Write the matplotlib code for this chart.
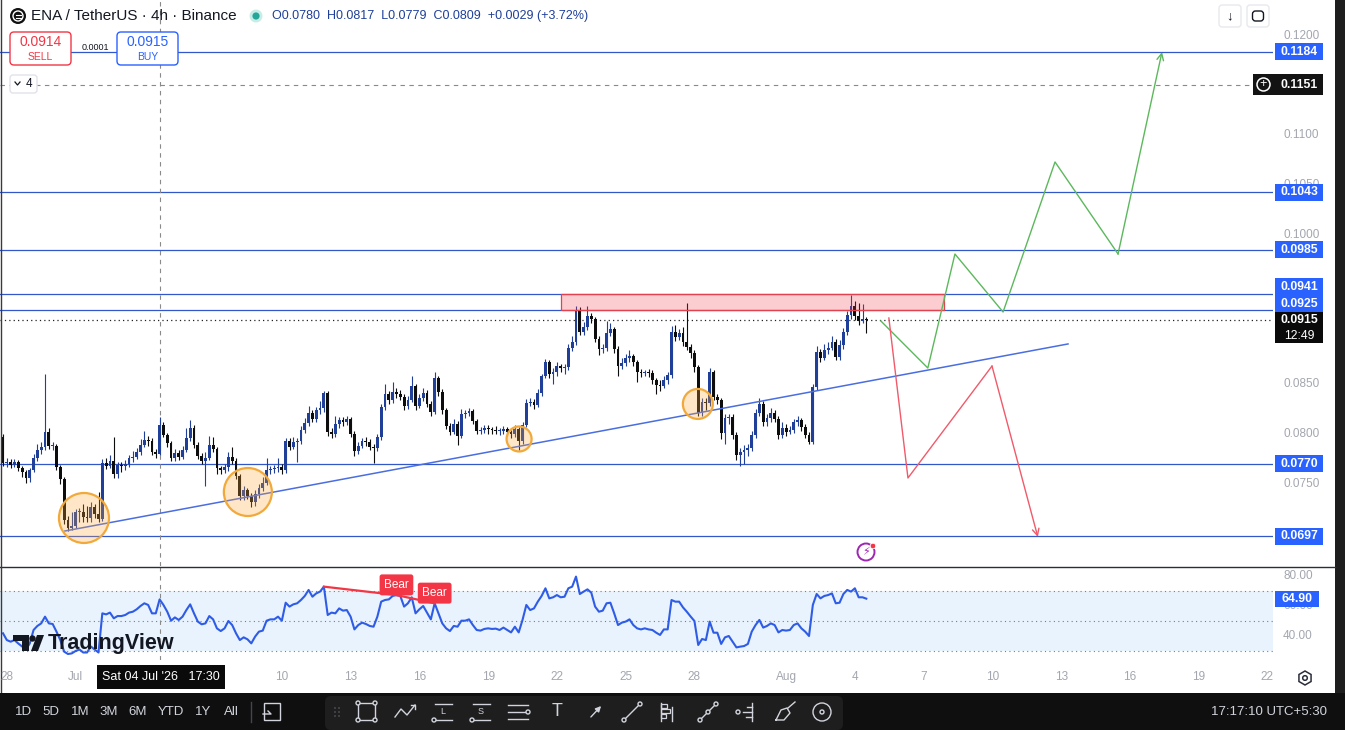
import matplotlib.pyplot as plt
import matplotlib.transforms as mtransforms
from matplotlib.patches import Rectangle, Ellipse, FancyBboxPatch, Circle, Polygon, RegularPolygon
import numpy as np

plt.rcParams['font.family'] = ['Liberation Sans', 'DejaVu Sans']

W, H = 1345, 730
PIP = 1e-4

# ---- ENA/USDT 4h candles, in pips (0.0001), first bar = 27 Jun 21:30
first_open = 797
closes = [771, 772, 769, 772, 766, 762, 756, 764, 776, 784,
          787, 802, 788, 788, 767, 755, 714, 706, 708, 722,
          722, 717, 716, 727, 720, 715, 771, 768, 773, 760,
          769, 768, 770, 776, 777, 782, 789, 794, 793, 782,
          780, 809, 799, 791, 776, 781, 777, 784, 796, 806,
          789, 778, 773, 776, 789, 785, 766, 764, 767, 777,
          773, 758, 738, 744, 738, 732, 740, 746, 751, 764,
          765, 766, 767, 764, 793, 787, 792, 793, 804, 811,
          821, 815, 824, 826, 841, 802, 800, 810, 814, 812,
          815, 800, 783, 788, 793, 792, 787, 786, 797, 827,
          840, 834, 842, 840, 837, 828, 834, 848, 828, 836,
          841, 830, 822, 856, 842, 824, 808, 802, 810, 798,
          820, 821, 823, 813, 803, 804, 806, 805, 804, 803,
          803, 805, 802, 800, 805, 793, 809, 831, 832, 829,
          841, 858, 872, 860, 862, 868, 866, 867, 886, 892,
          924, 903, 908, 919, 916, 895, 885, 886, 902, 906,
          885, 868, 871, 876, 878, 872, 862, 861, 862, 861,
          854, 849, 848, 854, 859, 903, 897, 902, 892, 887,
          881, 867, 821, 832, 831, 862, 837, 834, 801, 816,
          817, 799, 779, 782, 784, 786, 799, 821, 830, 812,
          816, 821, 815, 799, 806, 802, 804, 812, 814, 807,
          799, 792, 847, 882, 876, 884, 886, 892, 877, 889,
          903, 920, 929, 919, 914, 916, 915]
highs = [800, 776, 775, 775, 774, 768, 764, 766, 780, 790,
         792, 860, 806, 792, 790, 769, 757, 718, 722, 725,
         726, 730, 728, 732, 730, 742, 775, 776, 779, 797,
         772, 772, 774, 779, 783, 786, 795, 803, 798, 796,
         785, 817, 812, 801, 793, 785, 784, 788, 806, 814,
         809, 792, 781, 782, 798, 797, 787, 768, 770, 782,
         787, 776, 760, 748, 746, 741, 744, 750, 757, 776,
         768, 769, 776, 770, 796, 796, 797, 796, 808, 816,
         828, 824, 827, 833, 843, 843, 806, 818, 817, 817,
         818, 817, 803, 792, 796, 797, 795, 790, 800, 830,
         850, 843, 852, 846, 844, 840, 838, 858, 850, 840,
         846, 844, 833, 862, 858, 845, 826, 811, 815, 813,
         825, 824, 826, 825, 815, 807, 809, 809, 807, 808,
         806, 808, 807, 804, 809, 807, 812, 835, 836, 835,
         845, 860, 875, 874, 866, 872, 870, 870, 890, 898,
         929, 928, 913, 929, 922, 918, 898, 890, 914, 912,
         908, 888, 876, 880, 884, 880, 874, 865, 864, 865,
         864, 856, 854, 858, 862, 909, 910, 906, 908, 932,
         890, 884, 869, 836, 836, 866, 864, 840, 836, 820,
         820, 820, 802, 786, 789, 790, 803, 825, 836, 833,
         820, 826, 824, 818, 812, 810, 808, 815, 818, 816,
         810, 802, 850, 888, 885, 890, 892, 898, 895, 894,
         907, 924, 940, 934, 932, 931, 918]
lows = [768, 767, 766, 767, 763, 757, 751, 752, 762, 773,
        780, 784, 785, 784, 764, 750, 710, 703, 704, 706,
        712, 712, 712, 712, 716, 712, 713, 765, 766, 756,
        756, 762, 764, 767, 772, 775, 779, 787, 788, 779,
        776, 779, 797, 787, 773, 773, 774, 775, 782, 793,
        786, 775, 770, 748, 774, 782, 760, 760, 761, 763,
        770, 755, 734, 734, 735, 727, 728, 736, 743, 749,
        760, 761, 762, 760, 761, 784, 785, 772, 790, 801,
        808, 812, 812, 820, 822, 798, 796, 797, 806, 808,
        809, 797, 778, 780, 786, 788, 784, 771, 783, 794,
        824, 830, 831, 836, 834, 824, 825, 832, 824, 826,
        833, 827, 818, 820, 838, 820, 805, 799, 800, 789,
        796, 816, 818, 810, 800, 800, 801, 800, 800, 800,
        799, 800, 798, 796, 797, 784, 790, 807, 828, 825,
        827, 838, 856, 856, 850, 858, 862, 860, 864, 883,
        889, 899, 899, 905, 912, 892, 879, 881, 883, 898,
        881, 858, 865, 868, 872, 868, 852, 857, 858, 857,
        850, 840, 843, 846, 850, 856, 893, 894, 888, 884,
        876, 862, 818, 818, 824, 828, 834, 830, 795, 790,
        810, 795, 774, 768, 770, 778, 783, 796, 818, 808,
        808, 812, 812, 795, 796, 798, 800, 801, 808, 803,
        796, 790, 790, 844, 872, 874, 880, 884, 874, 874,
        885, 900, 916, 915, 910, 912, 902]

# ---- RSI(14)
rsi = [41.8, 37.3, 36.2, 37.3, 35, 33, 31, 35, 44, 46.7,
       48.4, 52.9, 48.4, 48, 42.9, 37.3, 29.6, 28, 28.4, 30,
       31, 29, 29, 33, 31, 29, 55.1, 54.4, 55.6, 51.8,
       53.3, 53.3, 54, 55.6, 56.2, 57.8, 60, 61.8, 60.7, 55.1,
       55.1, 64.4, 60.7, 56.2, 50.2, 52.4, 50.7, 52.9, 57.3, 61.1,
       55.1, 49.6, 47.8, 48.4, 53.3, 51.1, 45.1, 43.3, 45.1, 50,
       47.3, 41.8, 37.3, 39.1, 37.8, 35.1, 39.6, 42.9, 43.6, 50.2,
       51.1, 51.1, 52.9, 50.2, 62.2, 59.6, 61.1, 61.8, 64, 66.7,
       70.7, 66.2, 68.4, 69.6, 72.9, 54, 55.6, 55.1, 58.4, 56.9,
       57.3, 52.9, 44.4, 47.3, 48.9, 48, 46.7, 46.2, 52.9, 62.9,
       64, 64.4, 66.7, 67.3, 66.7, 59.6, 61.8, 65.8, 55.1, 57.8,
       60, 55.6, 51.1, 61.8, 55.1, 48.4, 45.1, 43.3, 46.7, 46.2,
       50.2, 50.2, 51.1, 47.3, 44, 43.6, 44.7, 45.1, 44.7, 44.9,
       44, 45.6, 44, 42.4, 46.2, 42.4, 50.7, 60.7, 57.3, 58.4,
       62.9, 66.7, 71.8, 65.1, 65.8, 67.3, 65.8, 66.2, 71.8, 72.9,
       79.6, 68, 69.6, 71.1, 68.9, 59.6, 56.2, 56.9, 61.8, 62.2,
       55.1, 47.3, 48.9, 49.6, 51.1, 47.3, 45.1, 44.4, 45.1, 44.4,
       44, 42.2, 40.7, 44.4, 44.4, 64, 62.9, 62.9, 59.1, 56.2,
       53, 50, 34, 38, 37.3, 49.6, 42.2, 42.2, 34.7, 39.1,
       40, 36.2, 32.4, 32.9, 33.3, 34.7, 42.9, 47.3, 50.7, 45.6,
       46.7, 48.4, 47.3, 42.4, 44, 43.6, 44, 47.3, 48.4, 45.1,
       42.9, 40, 60.7, 68, 65.1, 66.7, 67.3, 68.4, 61.8, 62.2,
       68, 70.7, 69.6, 71.8, 65.8, 65.8, 64.9]
bear_pivots = [84, 103, 113]

# ---- horizontal levels and axis marks
levels = [0.1184, 0.1043, 0.0985, 0.0941, 0.0925, 0.0770, 0.0697]
level_shift = [0, 0, 0, 7, 6, 0, 0]          # label nudge, px up
price_ticks = [0.1200, 0.1100, 0.1050, 0.1000, 0.0850, 0.0800, 0.0750]
rsi_ticks = [80, 60, 40]
cross_price = 0.1151
cross_bar = 41
last_price = 0.0915
zone = (146.1, 246.3, 0.0925, 0.0941)
trend = ([16.2, 278.8], [0.07025, 0.08905])
green_path = ([229.8, 242.1, 249.2, 261.8, 275.4, 291.9, 303.4],
              [0.09136, 0.08663, 0.09809, 0.09226, 0.10734, 0.09809, 0.11839])
red_path = ([231.9, 236.9, 258.9, 270.9],
            [0.09166, 0.07558, 0.08683, 0.06965])
circles = [(21.2, 0.07156, 25), (64.1, 0.07417, 24), (135.1, 0.07950, 12.5), (181.9, 0.08302, 15)]

# day ticks: days from 1 Jul, first bar of 1 Jul is bar 19, 6 bars per day
tick_days = [-3, 0, 9, 12, 15, 18, 21, 24, 27, 31, 34, 37, 40, 43, 46, 49, 52]
tick_text = ['28', 'Jul', '10', '13', '16', '19', '22', '25', '28',
             'Aug', '4', '7', '10', '13', '16', '19', '22']

UP = '#1f3f98'
DN = '#0d0d0d'
LVL = '#3157c9'
GREY = '#a3a6af'
TVBLUE = '#2962ff'

fig = plt.figure(figsize=(W / 100, H / 100), dpi=100, facecolor='white')


def px_axes(x0, y0, x1, y1):
    return fig.add_axes([x0 / W, 1 - y1 / H, (x1 - x0) / W, (y1 - y0) / H])


X0, DX = 3.0, 3.82                 # px of bar 0, px per bar
PXP = 9950.0                       # px per 1.0 of price
ax = px_axes(0, 0, 1273, 566)
rax = px_axes(0, 567, 1273, 660)
ui = fig.add_axes([0, 0, 1, 1], zorder=5)
ui.set_xlim(0, W)
ui.set_ylim(H, 0)
ui.axis('off')
ui.patch.set_alpha(0)

xlim = ((0 - X0) / DX, (1273 - X0) / DX)
for a in (ax, rax):
    a.set_xlim(*xlim)
    a.set_xticks([])
    a.set_yticks([])
    for s in a.spines.values():
        s.set_visible(False)
ax.set_ylim(0.12 - 530 / PXP, 0.12 + 36 / PXP)
rax.set_ylim(24, 86)

# ---- candles
c = np.array(closes) * PIP
o = np.array([first_open] + closes[:-1]) * PIP
h = np.array(highs) * PIP
l = np.array(lows) * PIP
idx = np.arange(len(c))
col = np.where(c >= o, UP, DN)
ax.vlines(idx, l, h, colors=col, lw=0.8, zorder=3)
ax.bar(idx, np.maximum(np.abs(c - o), 0.00006), bottom=np.minimum(o, c),
       width=0.74, color=col, linewidth=0, zorder=3)

# ---- levels
for p in levels:
    ax.axhline(p, color=LVL, lw=0.9, zorder=2)
ax.axhline(last_price, color='#222222', lw=0.9, ls=(0, (1, 2.5)), zorder=2)
ax.plot([xlim[0], (1253 - X0) / DX], [cross_price, cross_price], color='#8a8a8a',
        lw=0.8, ls=(0, (4, 4)), zorder=2)
ax.axvline(cross_bar, color='#8a8a8a', lw=0.8, ls=(0, (4, 4)), zorder=2)
rax.axvline(cross_bar, color='#8a8a8a', lw=0.8, ls=(0, (4, 4)), zorder=2)

# ---- drawings
ax.add_patch(Rectangle((zone[0], zone[2]), zone[1] - zone[0], zone[3] - zone[2],
                       fc=(0.95, 0.21, 0.27, 0.25), ec='#e0424f', lw=0.9, zorder=6))
ax.plot(*trend, color='#4a6ee0', lw=1.1, zorder=5)
for cx, cy, r in circles:
    ax.add_patch(Ellipse((cx, cy), 2 * r / DX, 2 * r / PXP, fc=(1.0, 0.65, 0.2, 0.28),
                         ec='#f2a93b', lw=1.6, zorder=6))
ax.plot(green_path[0][:-1], green_path[1][:-1], color='#5cb85c', lw=1.0, zorder=6)
ax.annotate('', xy=(green_path[0][-1], green_path[1][-1]),
            xytext=(green_path[0][-2], green_path[1][-2]),
            arrowprops=dict(arrowstyle='->', color='#5cb85c', lw=1.0, shrinkA=0, shrinkB=0,
                            mutation_scale=12), zorder=6)
ax.plot(red_path[0][:-1], red_path[1][:-1], color='#f05a6a', lw=1.0, zorder=6)
ax.annotate('', xy=(red_path[0][-1], red_path[1][-1]),
            xytext=(red_path[0][-2], red_path[1][-2]),
            arrowprops=dict(arrowstyle='->', color='#f05a6a', lw=1.0, shrinkA=0, shrinkB=0,
                            mutation_scale=12), zorder=6)

# ---- RSI pane
rax.axhspan(30, 70, color='#e8f3fd', zorder=0, lw=0)
for v in (70, 50, 30):
    rax.axhline(v, color='#7a7d85', lw=0.8, ls=(0, (1, 3)), zorder=1)
rax.plot(idx, rsi, color='#2f5ce6', lw=1.5, zorder=3)
for a_, b_ in zip(bear_pivots[:-1], bear_pivots[1:]):
    rax.plot([a_, b_], [rsi[a_], rsi[b_]], color='#f23645', lw=1.6, zorder=4)
for pv in bear_pivots[1:]:
    rax.annotate('Bear', xy=(pv, rsi[pv]), xytext=(0, 3), textcoords='offset points',
                 ha='center', va='bottom', color='white', fontsize=8.5, zorder=7,
                 bbox=dict(boxstyle='round,pad=0.38,rounding_size=0.2', fc='#f23645', ec='none'))

# ---- price axis
tr_p = mtransforms.blended_transform_factory(ui.transData, ax.transData)
tr_r = mtransforms.blended_transform_factory(ui.transData, rax.transData)
tr_t = mtransforms.blended_transform_factory(ax.transData, ui.transData)

for p in price_ticks:
    ax.text(1283, p, f'{p:.4f}', transform=tr_p, color=GREY, fontsize=8.5,
            va='center', ha='left', clip_on=False, zorder=10)


def axis_box(a, tr, y, text, fc, x0=1275, w=48, up=8.5, dn=8.5, **kw):
    a.add_patch(Rectangle((x0, y - dn / PXP), w, (up + dn) / PXP, transform=tr, fc=fc,
                          ec='none', clip_on=False, zorder=12))
    a.text(x0 + w / 2, y, text, transform=tr, color='white', fontsize=8.8,
           fontweight='bold', ha='center', va='center', clip_on=False, zorder=13, **kw)


for p, s in zip(levels, level_shift):
    axis_box(ax, tr_p, p + s / PXP, f'{p:.4f}', TVBLUE)
axis_box(ax, tr_p, cross_price, f'{cross_price:.4f}', '#131313', x0=1253, w=70, up=10.5, dn=10.5)
ax.texts[-1].set_position((1299, cross_price))
axis_box(ax, tr_p, last_price, f'{last_price:.4f}', '#0a0a0a', up=8, dn=23.5)
ax.text(1299, last_price - 16 / PXP, '12:49', transform=tr_p, color='white', fontsize=8.8,
        ha='center', va='center', clip_on=False, zorder=13)
ui.add_patch(Circle((1263.5, 84.5), 6.5, fc='none', ec='white', lw=1.1, zorder=14))
ui.text(1263.5, 84.5, '+', color='white', fontsize=9, ha='center', va='center', zorder=14)

for v in rsi_ticks:
    rax.text(1283, v, f'{v:.2f}', transform=tr_r, color=GREY, fontsize=8.5,
             va='center', ha='left', clip_on=False, zorder=10)
rax.add_patch(Rectangle((1275, rsi[-1] - 5.3), 44, 10.6, transform=tr_r, fc=TVBLUE,
                        ec='none', clip_on=False, zorder=12))
rax.text(1297, rsi[-1], f'{rsi[-1]:.2f}', transform=tr_r, color='white', fontsize=8.8,
         fontweight='bold', ha='center', va='center', clip_on=False, zorder=13)

# ---- time axis
for d, t in zip(tick_days, tick_text):
    ui.text(19 + 6 * d, 677, t, transform=tr_t, color=GREY, fontsize=8.5,
            ha='center', va='center')
ui.add_patch(Rectangle((97, 665), 128, 24, fc='#0a0a0a', ec='none', zorder=8))
ui.text(161, 677, "Sat 04 Jul '26   17:30", color='white', fontsize=9,
        ha='center', va='center', zorder=9)
ui.add_patch(RegularPolygon((1305, 678), 6, radius=7, fc='none', ec='#2a2e39', lw=1.1))
ui.add_patch(Circle((1305, 678), 2.3, fc='none', ec='#2a2e39', lw=1.1))

# ---- frame
ui.plot([0, 1335], [566.5, 566.5], color='#2a2e39', lw=1)
ui.plot([0.5, 0.5], [0, 693], color='#3a3a3a', lw=1)
ui.add_patch(Rectangle((1335, 0), 10, 693, fc='#1e1e1e', ec='none'))

# ---- header
ui.add_patch(Circle((18, 16), 8, fc='#111111', ec='none'))
ui.add_patch(Circle((18, 16), 5, fc='none', ec='white', lw=1))
ui.plot([15.5, 20.5], [14.5, 14.5], color='white', lw=0.8)
ui.plot([15.5, 20.5], [17.5, 17.5], color='white', lw=0.8)
ui.text(31, 16, 'ENA / TetherUS · 4h · Binance', color='#131722', fontsize=11,
        ha='left', va='center')
ui.add_patch(Circle((256, 16), 6.5, fc='#c8ece6', ec='none'))
ui.add_patch(Circle((256, 16), 3.6, fc='#26a69a', ec='none'))
k = cross_bar
oo, hh_, ll_, cc = o[k], h[k], l[k], c[k]
ohlc = (f'O{oo:.4f}  H{hh_:.4f}  L{ll_:.4f}  C{cc:.4f}  {cc - oo:+.4f} '
        f'({(cc - oo) / oo * 100:+.2f}%)')
ui.text(272, 16.5, ohlc, color='#1f3f98', fontsize=9, ha='left', va='center')

ui.add_patch(FancyBboxPatch((10, 32), 61, 33, boxstyle='round,pad=0,rounding_size=4',
                            fc='white', ec='#f23645', lw=1, zorder=6))
ui.text(40.5, 42, '0.0914', color='#f23645', fontsize=10, ha='center', va='center', zorder=7)
ui.text(40.5, 57, 'SELL', color='#f23645', fontsize=7.5, ha='center', va='center', zorder=7)
ui.add_patch(FancyBboxPatch((117, 32), 61, 33, boxstyle='round,pad=0,rounding_size=4',
                            fc='white', ec=TVBLUE, lw=1, zorder=6))
ui.text(147.5, 42, '0.0915', color=TVBLUE, fontsize=10, ha='center', va='center', zorder=7)
ui.text(147.5, 57, 'BUY', color=TVBLUE, fontsize=7.5, ha='center', va='center', zorder=7)
ui.text(95, 48, '0.0001', color='#131722', fontsize=6.5, ha='center', va='center', zorder=7)
ui.add_patch(FancyBboxPatch((10, 75), 27, 18, boxstyle='round,pad=0,rounding_size=3',
                            fc='white', ec='#e0e3eb', lw=1, zorder=6))
ui.plot([15, 17.5, 20], [82, 85, 82], color='#131722', lw=0.9, zorder=7)
ui.text(29, 84, '4', color='#131722', fontsize=8.5, ha='center', va='center', zorder=7)

for bx in (1219, 1247):
    ui.add_patch(FancyBboxPatch((bx, 5), 22, 22, boxstyle='round,pad=0,rounding_size=3',
                                fc='white', ec='#e8e9ee', lw=1, zorder=6))
ui.text(1230, 16, '↓', color='#131722', fontsize=9.5, ha='center', va='center', zorder=7)
ui.add_patch(FancyBboxPatch((1252.5, 11), 11, 10, boxstyle='round,pad=0,rounding_size=3',
                            fc='none', ec='#131722', lw=1, zorder=7))

# lightning (alerts) badge
ui.add_patch(Circle((866, 552), 8.5, fc='white', ec='#9c27b0', lw=1.4, zorder=7))
ui.text(866, 552.5, '⚡', color='#9c27b0', fontsize=8, ha='center', va='center', zorder=8)
ui.add_patch(Circle((873, 546), 2.8, fc='#f23645', ec='white', lw=0.6, zorder=9))

# watermark
ui.add_patch(Polygon([(13, 635), (29, 635), (29, 651), (22, 651), (22, 641), (13, 641)],
                     closed=True, fc='#131722', ec='none', zorder=7))
ui.add_patch(Circle((32.5, 638.5), 3.2, fc='#131722', ec='none', zorder=7))
ui.add_patch(Polygon([(31, 651), (37, 635), (44, 635), (38, 651)], closed=True,
                     fc='#131722', ec='none', zorder=7))
ui.text(48, 643, 'TradingView', color='#131722', fontsize=15.5, fontweight='bold',
        ha='left', va='center', zorder=7)

# ---- bottom toolbar
ui.add_patch(Rectangle((0, 693), W, 37, fc='#0f0f0f', ec='none', zorder=7))
ui.add_patch(FancyBboxPatch((325, 696), 518, 34, boxstyle='round,pad=0,rounding_size=6',
                            fc='#1e1e1e', ec='none', zorder=8))
for x, s in zip([24, 51, 80, 109, 138, 171, 203, 231],
                ['1D', '5D', '1M', '3M', '6M', 'YTD', '1Y', 'All']):
    ui.text(x, 712, s, color='#d1d4dc', fontsize=9.5, ha='center', va='center', zorder=9)
ui.plot([251, 251], [702, 722], color='#434651', lw=1, zorder=9)
ui.add_patch(Rectangle((264, 703), 16, 17, fc='none', ec='#d1d4dc', lw=1, zorder=9))
ui.plot([263, 271, 268], [714, 714, 711], color='#d1d4dc', lw=1, zorder=9)
ui.text(1327, 712, '17:17:10 UTC+5:30', color='#d1d4dc', fontsize=9.5, ha='right',
        va='center', zorder=9)
for dx_ in (0, 4):
    for dy_ in (-4, 0, 4):
        ui.add_patch(Circle((335 + dx_, 712 + dy_), 0.8, fc='#5d606b', ec='none', zorder=9))

ic = '#d1d4dc'
kw = dict(color=ic, lw=1, zorder=9)
# rectangle tool
ui.add_patch(Rectangle((358, 703), 17, 17, fc='none', ec=ic, lw=1, zorder=9))
for px_, py_ in [(358, 703), (375, 703), (358, 720), (375, 720)]:
    ui.add_patch(Circle((px_, py_), 2, fc='#1e1e1e', ec=ic, lw=1, zorder=10))
# path
ui.plot([395, 401, 407, 415], [717, 709, 715, 705], **kw)
ui.plot([411, 415, 415], [705, 705, 709], **kw)
# long/short positions
for cx_, lt in ((443, 'L'), (481, 'S')):
    ui.plot([cx_ - 8, cx_ + 9], [704, 704], **kw)
    ui.plot([cx_ - 8, cx_ + 9], [720, 720], **kw)
    ui.text(cx_, 712, lt, color=ic, fontsize=6.5, ha='center', va='center', zorder=9)
    ui.add_patch(Circle((cx_ - 9, 720), 2, fc='#1e1e1e', ec=ic, lw=1, zorder=10))
# lines
for yy in (705, 712, 719):
    ui.plot([508, 528], [yy, yy], **kw)
ui.add_patch(Circle((528, 712), 2, fc='#1e1e1e', ec=ic, lw=1, zorder=10))
ui.text(557, 712, 'T', color=ic, fontsize=13, ha='center', va='center', zorder=9)
ui.annotate('', xy=(603, 704), xytext=(589, 719),
            arrowprops=dict(arrowstyle='-|>', color=ic, lw=1, mutation_scale=8), zorder=9)
ui.plot([624, 640], [720, 704], **kw)
for px_, py_ in [(624, 720), (640, 704)]:
    ui.add_patch(Circle((px_, py_), 2, fc='#1e1e1e', ec=ic, lw=1, zorder=10))
ui.plot([661, 661], [703, 721], **kw)
for yy, ww in ((706, 6), (711, 9), (716, 5)):
    ui.add_patch(Rectangle((661, yy - 2), ww, 4, fc='none', ec=ic, lw=0.9, zorder=9))
ui.plot([672, 672], [707, 721], **kw)
ui.plot([700, 708], [720, 712], **kw)
ui.plot([709, 716], [711, 704], **kw)
for px_, py_ in [(700, 720), (708, 712), (716, 704)]:
    ui.add_patch(Circle((px_, py_), 2, fc='#1e1e1e', ec=ic, lw=1, zorder=10))
ui.plot([752, 752], [703, 721], **kw)
for yy, ww in ((707, 5), (712, 9), (717, 6)):
    ui.plot([752 - ww, 752], [yy, yy], **kw)
ui.add_patch(Circle((738, 712), 2, fc='#1e1e1e', ec=ic, lw=1, zorder=10))
ui.plot([776, 781, 787, 790, 784, 776], [720, 710, 708, 713, 720, 720], **kw)
ui.plot([788, 795], [708, 702], **kw)
ui.add_patch(Circle((822, 712), 9, fc='none', ec=ic, lw=1, zorder=9))
ui.add_patch(Circle((822, 712), 2, fc='none', ec=ic, lw=1, zorder=9))

fig.savefig('out.png', dpi=100, facecolor='white')
